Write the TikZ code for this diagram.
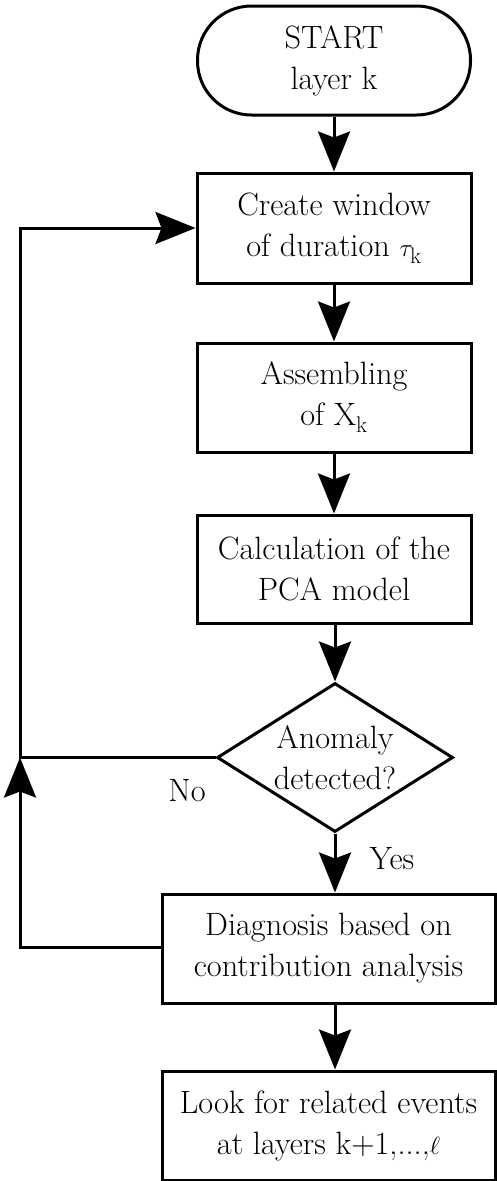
\documentclass[tikz,border=0pt]{standalone}
\usepackage{fontspec}
\usetikzlibrary{arrows.meta,shapes.geometric}
\tikzset{
  stepbox/.style={draw, line width=3pt, minimum width=274pt, minimum height=109pt, inner sep=0pt, align=center, font=\fontsize{32.3}{41}\selectfont},
  widebox/.style={stepbox, minimum width=333pt},
  termbox/.style={stepbox, rounded corners=54pt},
  decbox/.style={draw, diamond, line width=3pt, minimum width=236pt, minimum height=149pt, inner sep=0pt},
  lbl/.style={align=center, font=\fontsize{32.3}{41}\selectfont, inner sep=0pt},
  conn/.style={line width=3pt, -{Stealth[length=40pt, width=32pt, inset=6pt]}}
}
\begin{document}
\begin{tikzpicture}[x=1pt,y=-1pt]
\useasboundingbox (0,0) rectangle (497,1181);
\node[termbox, minimum width=273pt] (start) at (334,60.5) {START\\layer k};
\node[stepbox, minimum height=110pt] (create) at (334,228) {Create window\\of duration $\tau_{\mathrm{k}}$};
\node[stepbox] (assemble) at (334,397.5) {Assembling\\of X$_{\mathrm{k}}$};
\node[stepbox, minimum height=108pt] (calc) at (334,569) {Calculation of the\\PCA model};
\node[decbox] (dec) at (335,757.5) {};
\node[lbl] (dectext) at (dec.center) {Anomaly\\detected?};
\node[widebox] (diag) at (328.5,948.5) {Diagnosis based on\\contribution analysis};
\node[widebox] (look) at (328.5,1125.5) {Look for related events\\at layers k+1,...,$\ell$};
\coordinate (c1) at (20,757.5);
\coordinate (c2) at (20,228);
\coordinate (c3) at (20,947);
\node[lbl] (no) at (187,791) {No};
\node[lbl] (yes) at (392,859) {Yes};
\draw[conn] (start) -- (create);
\draw[conn] (create) -- (assemble);
\draw[conn] (assemble) -- (calc);
\draw[conn] (calc.south -| dec.north) -- (dec.north);
\draw[conn] (dec.south) -- (dec.south |- diag.north);
\draw[conn] (dec.south |- diag.south) -- (dec.south |- look.north);
\draw[conn] (dec.west) -- (c1) -- (c2) -- (create.west);
\draw[conn] (diag.west |- c3) -- (c3) -- (c1);
\end{tikzpicture}
\end{document}
